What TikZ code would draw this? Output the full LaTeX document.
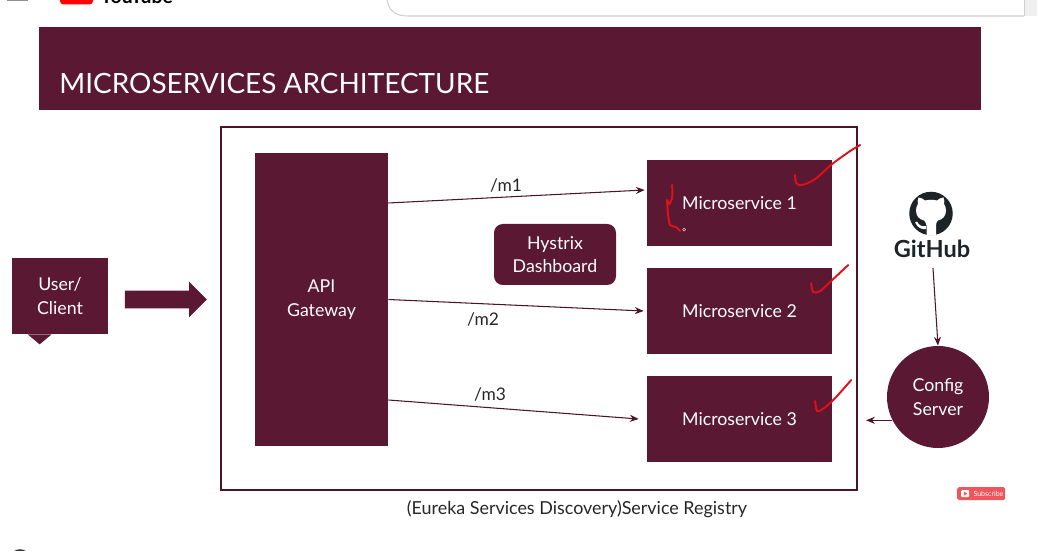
\documentclass[tikz,border=0pt]{standalone}
\usepackage{fontspec}
\setmainfont{Lato}
\usepackage{xcolor}
\usetikzlibrary{arrows.meta,shapes.arrows}
\definecolor{maroon}{HTML}{5A1832}
\definecolor{markred}{HTML}{E01018}
\definecolor{ghdark}{HTML}{1E2327}
\definecolor{subred}{HTML}{F0555C}
\definecolor{chrome}{HTML}{CFCFCF}
\tikzset{
  block/.style={fill=maroon, text=white, align=center, inner sep=0pt, font=\fontsize{10.1}{13.4}\selectfont},
  banner/.style={fill=maroon, minimum width=18.84cm, minimum height=1.66cm, inner sep=0pt},
  headtext/.style={text=white, font=\fontsize{15.9}{18}\selectfont, inner sep=0pt},
  frame/.style={draw=maroon!85!black, line width=1.2pt, minimum width=12.72cm, minimum height=7.26cm, inner sep=0pt},
  route/.style={draw=maroon!85!black, -{Stealth[length=5pt,width=4pt]}, line width=0.6pt},
  routelabel/.style={font=\fontsize{9.9}{12}\selectfont, text=black!85, inner sep=0pt},
  tick/.style={draw=markred, line width=1.1pt, line cap=round, line join=round},
}
\def\cM{14.79}
\begin{document}
\begin{tikzpicture}
  \useasboundingbox (0,0) rectangle (20.74,11.02);
  \clip (0,0) rectangle (20.74,11.02);
  % page chrome, cut off by the screenshot
  \begin{scope}[shift={(0,11.02)},x=0.02cm,y=-0.02cm]
    \fill[chrome!70!black] (7,-2) rectangle (28,1);
    \fill[red, rounded corners=2pt] (60,-8) rectangle (93,4.5);
    \node[anchor=base west, inner sep=0pt, font=\fontsize{11}{12}\selectfont\bfseries, text=black] (ytname) at (100,3.6) {YouTube};
    \draw[chrome, line width=0.6pt] (387,-2) .. controls (388,10) and (394,16) .. (408,16) -- (1024,16);
    \fill[black!6] (1024,-1) rectangle (1038,16);
    \draw[chrome, line width=0.6pt] (1024,-1) -- (1024,16);
    \draw[black!80, line width=1pt] (20,559.5) circle (9.5);
  \end{scope}
  \node[banner] (title) at (10.2,9.65) {};
  \node[headtext, anchor=base west] (titletext) at (1.18,9.14) {MICROSERVICES ARCHITECTURE};
  \node[frame] (registry) at (10.78,4.85) {};
  \node[block, minimum width=2.66cm, minimum height=5.86cm] (gateway) at (6.43,5.03) {API\\Gateway};
  \node[block, minimum width=2.44cm, minimum height=1.22cm, rounded corners=5pt] (hystrix) at (11.10,5.93) {Hystrix\\Dashboard};
  \node[block, minimum width=3.7cm, minimum height=1.72cm] (ms1) at (\cM,6.96) {Microservice 1};
  \node[block, minimum width=3.7cm, minimum height=1.72cm] (ms2) at (\cM,4.80) {Microservice 2};
  \node[block, minimum width=3.7cm, minimum height=1.72cm] (ms3) at (\cM,2.64) {Microservice 3};
  \node[block, minimum width=1.92cm, minimum height=1.52cm] (user) at (1.2,5.10) {User/\\Client};
  \fill[maroon] ([xshift=0.32cm]user.south west) -- ([xshift=0.56cm,yshift=-0.2cm]user.south west) -- ([xshift=0.80cm]user.south west) -- cycle;
  \node[fill=maroon, single arrow, single arrow head extend=0.18cm, minimum height=1.64cm, inner sep=0pt] (userarrow) at (3.23,5.03) {\rule{0pt}{0.34cm}};
  \node[block, circle, minimum size=2.04cm] (config) at (18.76,3.08) {Config\\Server};
  % github mark
  \node[circle, fill=ghdark, minimum size=0.87cm, inner sep=0pt] (ghmark) at (18.62,6.75) {};
  \begin{scope}[shift={(18.62,6.75)},x=0.02cm,y=-0.02cm]
    \fill[white] (-4.5,21.8) -- (-4.5,12) .. controls (-5,9) and (-6,8) .. (-7,7) .. controls (-12,6) and (-15,2) .. (-15,-3) .. controls (-15,-6) and (-14,-8) .. (-13,-9.5) .. controls (-13.5,-11) and (-13.5,-14) .. (-12.5,-16) .. controls (-10,-16) and (-8,-14.5) .. (-6,-13) .. controls (-2,-14) and (2,-14) .. (6,-13) .. controls (8,-14.5) and (10,-16) .. (12.5,-16) .. controls (13.5,-14) and (13.5,-11) .. (13,-9.5) .. controls (14,-8) and (15,-6) .. (15,-3) .. controls (15,2) and (12,6) .. (7,7) .. controls (6,8) and (5,9) .. (5,12) -- (5,21.8) -- cycle;
    \fill[white] (-5,12.5) .. controls (-9,13.5) and (-12,12) .. (-14,8) -- (-16,9) .. controls (-13,15) and (-9,16) .. (-5,15.5) -- cycle;
  \end{scope}
  \node[font=\fontsize{13.4}{16}\selectfont\bfseries, text=ghdark, inner sep=0pt] (github) at (18.64,6.04) {GitHub};
  \coordinate (cfgend) at ([xshift=0.16cm]registry.east |- config.207);
  \draw[route] ([yshift=1.93cm]gateway.east) -- ([xshift=-0.04cm,yshift=0.26cm]ms1.west);
  \draw[route] (gateway.east) -- ([xshift=-0.06cm]ms2.west);
  \draw[route] ([yshift=-2.01cm]gateway.east) -- ([xshift=-0.16cm]ms3.west);
  \draw[route] ([xshift=0.02cm,yshift=-0.2cm]github.south) -- (config.north);
  \draw[route] (config.207) -- (cfgend);
  \node[routelabel] (m1) at (10.12,7.32) {/m1};
  \node[routelabel] (m2) at (9.66,4.64) {/m2};
  \node[routelabel] (m3) at (9.80,3.14) {/m3};
  \node[routelabel, font=\fontsize{10.2}{12}\selectfont] (caption) at (11.54,0.83) {(Eureka Services Discovery)Service Registry};
  % pen marks
  \begin{scope}[shift={(0,11.02)},x=0.02cm,y=-0.02cm]
    \draw[tick] plot[smooth, tension=0.5] coordinates {(795,175) (796,183) (802,185) (815,179) (832,164) (850,151) (860,145)};
    \draw[tick] plot[smooth, tension=0.5] coordinates {(811,283) (813,292) (820,291) (832,280) (848,265)};
    \draw[tick] plot[smooth, tension=0.5] coordinates {(815,401) (817,411) (824,408) (835,398) (851,380)};
    \draw[tick] plot[smooth, tension=0.5] coordinates {(672,185) (672,198) (669,204) (667,200) (668,215) (670,225) (676,227) (680,231)};
    \draw[white!80!maroon, line width=0.3pt] (684,228) -- (685.5,229.5) -- (684,231) -- (682.5,229.5) -- cycle;
    % subscribe badge
    \node[fill=subred, rounded corners=1pt, minimum width=0.96cm, minimum height=0.26cm, inner sep=0pt] (subscribe) at (981,493.5) {};
    \node[text=white, font=\fontsize{4}{5}\selectfont, inner sep=0pt, anchor=west] (subtext) at (973,493.5) {Subscribe};
    \fill[white, rounded corners=0.6pt] (961,490) rectangle (969,497);
    \fill[subred] (963.8,491.5) -- (967,493.5) -- (963.8,495.5) -- cycle;
  \end{scope}
\end{tikzpicture}
\end{document}
